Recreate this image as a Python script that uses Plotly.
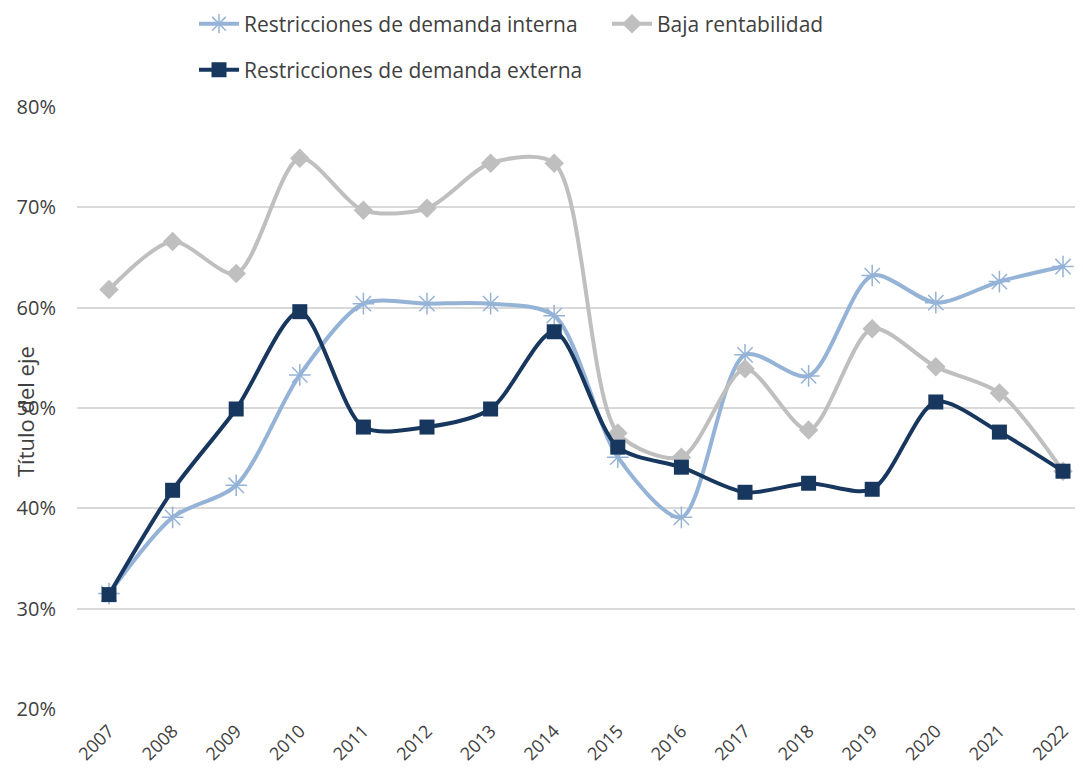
import plotly.graph_objects as go

years = list(range(2007, 2023))
interna = [31.5, 39.1, 42.3, 53.3, 60.4, 60.4, 60.4, 59.2, 45.1, 39.1, 55.3, 53.2, 63.2, 60.5, 62.6, 64.1]
baja = [61.8, 66.6, 63.4, 74.9, 69.7, 69.9, 74.4, 74.4, 47.5, 45.1, 53.9, 47.8, 57.9, 54.1, 51.5, 43.7]
externa = [31.4, 41.8, 49.9, 59.6, 48.1, 48.1, 49.9, 57.6, 46.1, 44.1, 41.6, 42.5, 41.9, 50.6, 47.6, 43.7]

FONT = "Open Sans"
TXT = "#404040"
OFF = 8  # page body margin offset
W, H = 1083, 769
L, T = 77 - OFF, 107 - OFF
B = H - (709 - OFF)
PW, PH = W - L, H - T - B


def px_x(x):  # screen px -> paper
    return (x - OFF - L) / PW


def px_y(y):
    return (H - B - (y - OFF)) / PH


fig = go.Figure()
fig.add_trace(go.Scatter(
    x=years, y=interna, name="Restricciones de demanda interna",
    mode="lines+markers", line=dict(color="#95B3D7", width=4, shape="spline", smoothing=0.8),
    marker=dict(symbol="asterisk-open", size=18, line=dict(color="#95B3D7", width=1.5)),
    legend="legend"))
fig.add_trace(go.Scatter(
    x=years, y=baja, name="Baja rentabilidad",
    mode="lines+markers", line=dict(color="#BFBFBF", width=4, shape="spline", smoothing=0.8),
    marker=dict(symbol="diamond", size=15, color="#BFBFBF"),
    legend="legend3"))
fig.add_trace(go.Scatter(
    x=years, y=externa, name="Restricciones de demanda externa",
    mode="lines+markers", line=dict(color="#17375E", width=4, shape="spline", smoothing=0.8),
    marker=dict(symbol="square", size=15, color="#17375E"),
    legend="legend2"))

leg_common = dict(orientation="h", xanchor="left", yanchor="middle", itemwidth=40,
                  font=dict(size=21, color=TXT), bgcolor="rgba(0,0,0,0)", borderwidth=0)

x_lo = 2007 - (109 - 77) / 63.6
x_hi = 2022 + (1091 - 1063) / 63.6

fig.update_layout(
    width=W, height=H,
    margin=dict(l=L, r=0, t=T, b=B, autoexpand=False),
    paper_bgcolor="white", plot_bgcolor="white",
    font=dict(family=FONT, size=19, color=TXT),
    showlegend=True,
    legend=dict(x=px_x(194), y=px_y(24), **leg_common),
    legend3=dict(x=px_x(607), y=px_y(24), **leg_common),
    legend2=dict(x=px_x(194), y=px_y(70), **leg_common),
    xaxis=dict(range=[x_lo, x_hi], tickmode="array", tickvals=years, ticktext=[str(y) for y in years],
               tickangle=-45, showgrid=False, zeroline=False, showline=False,
               tickfont=dict(size=18, color=TXT), ticks="", ticklabelstandoff=7),
    yaxis=dict(range=[20, 80], dtick=10, ticksuffix="%", showgrid=True, gridcolor="#D9D9D9", gridwidth=2,
               zeroline=False, showline=False, tickfont=dict(size=20, color=TXT), ticklabelstandoff=20),
    annotations=[dict(text="Título del eje", xref="paper", yref="paper", x=px_x(8), y=px_y(412),
                      textangle=-90, showarrow=False, font=dict(size=22, color=TXT),
                      xanchor="left", yanchor="middle")],
)

fig.write_html("out.html")
